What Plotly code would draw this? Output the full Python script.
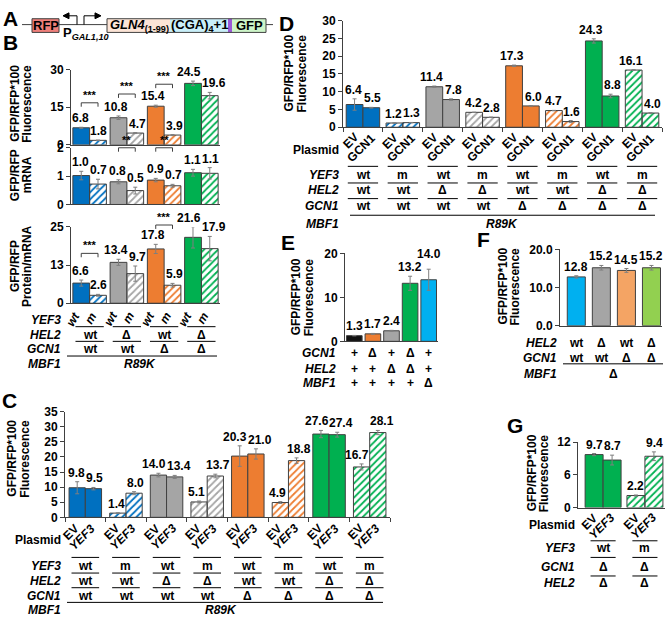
import plotly.graph_objects as go

W, H = 669, 626
FONT = "Liberation Sans, Arial, sans-serif"
AXC = "#404040"
ERRC = "#7f7f7f"

BLUE = "#0070C0"; GRAY = "#A5A5A5"; ORANGE = "#ED7D31"; GREEN = "#00B050"
LBLUE = "#00B0F0"; LORANGE = "#F4A464"; LGREEN = "#92D050"; BLACK = "#111111"

# ---------------- data ----------------
# Panel B
b_hel2 = ["wt", "Δ", "wt", "Δ"]
b_gcn1 = ["wt", "wt", "Δ", "Δ"]
b_yef3 = ["wt", "m"]
b_fluor_wt = [6.8, 10.8, 15.4, 24.5]
b_fluor_wt_err = [0.2, 0.7, 0.4, 0.9]
b_fluor_m = [1.8, 4.7, 3.9, 19.6]
b_fluor_m_err = [0.1, 0.2, 0.2, 1.3]
b_mrna_wt = [1.02, 0.80, 0.86, 1.12]
b_mrna_wt_err = [0.15, 0.07, 0.06, 0.12]
b_mrna_m = [0.72, 0.49, 0.66, 1.10]
b_mrna_m_err = [0.17, 0.12, 0.05, 0.20]
b_prot_wt = [6.6, 13.4, 17.8, 21.6]
b_prot_wt_err = [1.0, 1.0, 1.5, 3.5]
b_prot_m = [2.6, 9.7, 5.9, 17.9]
b_prot_m_err = [0.3, 2.5, 0.6, 4.0]

# Panel C
c_yef3 = ["wt", "m", "wt", "m", "wt", "m", "wt", "m"]
c_hel2 = ["wt", "wt", "Δ", "Δ", "wt", "wt", "Δ", "Δ"]
c_gcn1 = ["wt", "wt", "wt", "wt", "Δ", "Δ", "Δ", "Δ"]
c_plasmid = ["EV", "YEF3"]
c_ev = [9.8, 1.4, 14.0, 5.1, 20.3, 4.9, 27.6, 16.7]
c_ev_err = [2.0, 0.1, 0.6, 0.3, 3.4, 0.3, 1.2, 1.0]
c_yef3_val = [9.5, 8.0, 13.4, 13.7, 21.0, 18.8, 27.4, 28.1]
c_yef3_err = [0.4, 0.5, 0.5, 0.6, 1.7, 0.9, 0.8, 0.7]

# Panel D
d_yef3 = ["wt", "m", "wt", "m", "wt", "m", "wt", "m"]
d_hel2 = ["wt", "wt", "Δ", "Δ", "wt", "wt", "Δ", "Δ"]
d_gcn1 = ["wt", "wt", "wt", "wt", "Δ", "Δ", "Δ", "Δ"]
d_plasmid = ["EV", "GCN1"]
d_ev = [6.4, 1.2, 11.4, 4.2, 17.3, 4.7, 24.3, 16.1]
d_ev_err = [1.6, 0.05, 0.2, 0.05, 0.2, 0.05, 0.6, 0.1]
d_gcn1_val = [5.5, 1.3, 7.8, 2.8, 6.0, 1.6, 8.8, 4.0]
d_gcn1_err = [0.1, 0.05, 0.2, 0.05, 0.05, 0.3, 0.5, 0.1]

# Panel E
e_gcn1 = ["+", "Δ", "+", "Δ", "+"]
e_hel2 = ["+", "+", "Δ", "Δ", "+"]
e_mbf1 = ["+", "+", "+", "+", "Δ"]
e_vals = [1.3, 1.7, 2.4, 13.2, 14.0]
e_err = [0.05, 0.1, 0.1, 1.6, 2.4]

# Panel F
f_hel2 = ["wt", "Δ", "wt", "Δ"]
f_gcn1 = ["wt", "wt", "Δ", "Δ"]
f_vals = [12.8, 15.2, 14.5, 15.2]
f_err = [0.3, 0.6, 0.5, 0.6]

# Panel G
g_plasmid = ["EV", "YEF3"]
g_yef3 = ["wt", "m"]
g_gcn1 = ["Δ", "Δ"]
g_hel2 = ["Δ", "Δ"]
g_ev = [9.7, 2.2]
g_ev_err = [0.2, 0.1]
g_yef3_val = [8.7, 9.4]
g_yef3_err = [0.9, 0.8]

# styles
b_colors = [BLUE, GRAY, ORANGE, GREEN]
cd_colors = [BLUE, BLUE, GRAY, GRAY, ORANGE, ORANGE, GREEN, GREEN]
cd_hatch = [False, True] * 4
e_colors = [BLACK, ORANGE, GRAY, GREEN, LBLUE]
f_colors = [LBLUE, GRAY, LORANGE, LGREEN]
g_colors = [GREEN, GREEN]
g_hatch = [False, True]

# ---------------- helpers ----------------
fig = go.Figure()
ann, shp, axes = [], [], {}
AXINFO = {}
_n = [0]


def PX(x):
    return x / W


def PY(y):
    return 1 - y / H


def txt(x, y, s, size=12, xa="center", ya="middle", xref="paper", yref="paper",
        angle=0, xshift=0, yshift=0):
    ann.append(dict(x=x, y=y, text=s, xref=xref, yref=yref, xanchor=xa, yanchor=ya,
                    showarrow=False, textangle=angle, xshift=xshift, yshift=yshift,
                    borderpad=0, font=dict(family=FONT, size=size, color="black")))


def ln(x0, y0, x1, y1, xref="paper", color="black", width=1):
    if xref == "paper":
        x0, x1 = PX(x0), PX(x1)
    shp.append(dict(type="line", x0=x0, y0=PY(y0), x1=x1, y1=PY(y1), xref=xref,
                    yref="paper", line=dict(color=color, width=width)))


def rect(x0, y0, x1, y1, fill, outline=None):
    shp.append(dict(type="rect", xref="paper", yref="paper", x0=PX(x0), x1=PX(x1),
                    y0=PY(y1), y1=PY(y0), fillcolor=fill,
                    line=dict(color=outline or fill, width=1 if outline else 0)))


def arrowhead(x, y, direction):
    d = 6 * direction
    path = (f"M {PX(x)},{PY(y)} L {PX(x - d)},{PY(y - 3)} "
            f"L {PX(x - d)},{PY(y + 3)} Z")
    shp.append(dict(type="path", path=path, xref="paper", yref="paper",
                    fillcolor="black", line=dict(color="black", width=1)))


def make_axes(xpx, ypx, xrange, yrange, tickvals, ticktext=None, bticks=False):
    _n[0] += 1
    n = _n[0]
    sx = "" if n == 1 else str(n)
    axes["xaxis" + sx] = dict(
        domain=[PX(xpx[0]), PX(xpx[1])], range=xrange, anchor="y" + sx, type="category",
        showline=True, linecolor=AXC, linewidth=1, showgrid=False, zeroline=False,
        showticklabels=False, ticks="outside" if bticks else "", tickson="boundaries",
        ticklen=4, tickcolor=AXC, fixedrange=True)
    axes["yaxis" + sx] = dict(
        domain=[PY(ypx[1]), PY(ypx[0])], range=yrange, anchor="x" + sx,
        showline=True, linecolor=AXC, linewidth=1, showgrid=False, zeroline=False,
        ticks="outside", ticklen=4, tickcolor=AXC, tickvals=tickvals, ticktext=ticktext,
        tickfont=dict(family=FONT, size=12, color="black", weight="bold"),
        fixedrange=True)
    AXINFO["x" + sx] = dict(x0=xpx[0], x1=xpx[1], r0=xrange[0], r1=xrange[1],
                            ytop=ypx[0], ybot=ypx[1], v0=yrange[0], v1=yrange[1])
    return "x" + sx, "y" + sx


def bars(xr, yr, cats, vals, errs, colors, hatched, offset, width):
    fig.add_trace(go.Bar(
        x=cats, y=vals, xaxis=xr, yaxis=yr, offset=offset, width=width,
        marker=dict(color=colors, line=dict(color=AXC, width=1),
                    pattern=dict(shape=["/" if h else "" for h in hatched],
                                 fgcolor=colors, bgcolor="white",
                                 fillmode="replace", size=5, solidity=0.35)),
        error_y=dict(type="data", array=errs, color=ERRC, thickness=1, width=2),
        showlegend=False, hoverinfo="skip"))
    return [i + offset + width / 2 for i in range(len(vals))]


def text_w(s, size=12):
    return sum(3.34 if ch == "." else 6.67 for ch in s) * size / 12


def value_labels(xr, groups):
    """groups: list of lists of (center, value, err); labels in a group are spread apart."""
    a = AXINFO[xr]
    kx = (a["x1"] - a["x0"]) / (a["r1"] - a["r0"])
    ky = (a["ybot"] - a["ytop"]) / (a["v1"] - a["v0"])
    items = []
    for grp in groups:
        strs = [f"{v:.1f}" for _, v, _ in grp]
        shifts = [0.0] * len(grp)
        if len(grp) == 2:
            d = (grp[1][0] - grp[0][0]) * kx
            need = (text_w(strs[0]) + text_w(strs[1])) / 2 + 1.5
            s = min(max(0.0, (need - d) / 2), 5.0)
            shifts = [-s, s]
        for (c, v, e), st, sh in zip(grp, strs, shifts):
            items.append((c, v, e, st, sh))
    placed = []
    for c, v, e, st, sh in items:
        cx = a["x0"] + (c - a["r0"]) * kx + sh
        w = text_w(st)
        bottom = a["ybot"] - (v + e - a["v0"]) * ky - 1
        moved = True
        while moved:
            moved = False
            for (px2, w2, b2) in placed:
                if abs(cx - px2) < (w + w2) / 2 and not (bottom <= b2 - 14 or bottom - 14 >= b2):
                    bottom = b2 - 14
                    moved = True
        placed.append((cx, w, bottom))
        txt(c, PY(bottom), f"<b>{st}</b>", xref=xr, ya="bottom", xshift=sh)


def pair_labels(xr, c1, v1, e1, c2, v2, e2):
    value_labels(xr, [[(c1[i], v1[i], e1[i]), (c2[i], v2[i], e2[i])] for i in range(len(v1))])


def bracket(xr, c1, c2, ypx, stars):
    ln(c1, ypx + 4, c1, ypx, xref=xr, color=AXC)
    ln(c1, ypx, c2, ypx, xref=xr, color=AXC)
    ln(c2, ypx, c2, ypx + 4, xref=xr, color=AXC)
    txt((c1 + c2) / 2, PY(ypx - 1), f"<b>{stars}</b>", size=11, xref=xr, ya="bottom")


def row(xr, centers, labels, ypx, line_px=None, half=None):
    for c, lab in zip(centers, labels):
        txt(c, PY(ypx), f"<b>{lab}</b>", xref=xr)
        if line_px is not None:
            ln(c - half, line_px, c + half, line_px, xref=xr)


def rowname(xpx, ypx, name, italic=True):
    s = f"<b><i>{name}</i></b>" if italic else f"<b>{name}</b>"
    txt(PX(xpx), PY(ypx), s, xa="right")


def rot(xr, centers, labels, ytop, xshift, italic, size=12, angle=-45):
    for c, lab, it in zip(centers, labels, italic):
        s = f"<b><i>{lab}</i></b>" if it else f"<b>{lab}</b>"
        txt(c, PY(ytop), s, size=size, xref=xr, xa="right", ya="top", angle=angle,
            xshift=xshift)


def ylab(x1, x2, ypx, l1, l2):
    txt(PX(x1), PY(ypx), f"<b>{l1}</b>", angle=-90)
    txt(PX(x2), PY(ypx), f"<b>{l2}</b>", angle=-90)


def letter(x, y, s):
    txt(PX(x), PY(y), f"<b>{s}</b>", size=21)


# ---------------- Panel A (schematic) ----------------
ln(22, 18, 273, 18, color=AXC)
rect(32, 12, 59, 26, "#EF7F7A", AXC)
rect(107, 12, 170, 26, "#FCE4D6")
rect(170, 12, 228, 26, "#C9EFF9")
rect(228, 12, 232, 26, "#9B59D6")
rect(232, 12, 266, 26, "#CDF5C8")
shp.append(dict(type="rect", xref="paper", yref="paper", x0=PX(107), x1=PX(266),
                y0=PY(26), y1=PY(12), line=dict(color=AXC, width=1)))
ln(77, 18, 77, 9)
ln(77, 9, 66, 9)
arrowhead(63, 9, -1)
ln(84, 18, 84, 9)
ln(84, 9, 97, 9)
arrowhead(101, 9, 1)
txt(PX(45.5), PY(19), "<b>RFP</b>", size=13)
txt(PX(62), PY(27), "<b>P<sub><i>GAL1,10</i></sub></b>", size=13, xa="left")
txt(PX(139), PY(19), "<b><i>GLN4</i><sub>(1-99)</sub></b>", size=13)
txt(PX(199), PY(19), "<b>(CGA)<sub>4</sub>+1</b>", size=13)
txt(PX(249), PY(19), "<b>GFP</b>", size=13)
letter(10, 12, "A")

# ---------------- Panel B ----------------
letter(10, 36, "B")
PW_B = 0.9
b_cats = [f"{h}/{g}" for h, g in zip(b_hel2, b_gcn1)]

xB1, yB1 = make_axes((71, 220), (64, 141), [-0.5, 3.5], [0, 30], [0, 15, 30])
wt_c = bars(xB1, yB1, b_cats, b_fluor_wt, b_fluor_wt_err, b_colors, [False] * 4, -PW_B / 2, PW_B / 2)
m_c = bars(xB1, yB1, b_cats, b_fluor_m, b_fluor_m_err, b_colors, [True] * 4, 0, PW_B / 2)
pair_labels(xB1, wt_c, b_fluor_wt, b_fluor_wt_err, m_c, b_fluor_m, b_fluor_m_err)
for i, yp in zip([0, 1, 2], [98, 89, 79]):
    bracket(xB1, wt_c[i], m_c[i], yp, "***")
ylab(15, 27, 99, "GFP/RFP*100", "Fluorescence")

xB2, yB2 = make_axes((71, 220), (144, 202), [-0.5, 3.5], [0, 2], [0, 1, 2])
bars(xB2, yB2, b_cats, b_mrna_wt, b_mrna_wt_err, b_colors, [False] * 4, -PW_B / 2, PW_B / 2)
bars(xB2, yB2, b_cats, b_mrna_m, b_mrna_m_err, b_colors, [True] * 4, 0, PW_B / 2)
pair_labels(xB2, wt_c, b_mrna_wt, b_mrna_wt_err, m_c, b_mrna_m, b_mrna_m_err)
for i in [1, 2]:
    bracket(xB2, wt_c[i], m_c[i], 144, "**")
ylab(15, 27, 172, "GFP/RFP", "mRNA")

xB3, yB3 = make_axes((71, 220), (225, 303), [-0.5, 3.5], [0, 25], [0, 12.5, 25], ["0", "13", "25"])
bars(xB3, yB3, b_cats, b_prot_wt, b_prot_wt_err, b_colors, [False] * 4, -PW_B / 2, PW_B / 2)
bars(xB3, yB3, b_cats, b_prot_m, b_prot_m_err, b_colors, [True] * 4, 0, PW_B / 2)
pair_labels(xB3, wt_c, b_prot_wt, b_prot_wt_err, m_c, b_prot_m, b_prot_m_err)
bracket(xB3, wt_c[0], m_c[0], 252, "***")
bracket(xB3, wt_c[2], m_c[2], 223, "***")
ylab(15, 27, 265, "GFP/RFP", "Protein/mRNA")

for i in range(4):
    rot(xB3, [wt_c[i], m_c[i]], b_yef3, 308, 3, [True, True], size=12, angle=-60)
pc = list(range(4))
rowname(62, 320, "YEF3")
row(xB3, pc, b_hel2, 335, 327, 0.38)
rowname(62, 335, "HEL2")
row(xB3, pc, b_gcn1, 350, 342, 0.38)
rowname(62, 350, "GCN1")
ln(67, 357, 217, 357)
rowname(62, 365, "MBF1")
txt(PX(140), PY(365), "<b><i>R89K</i></b>")

# ---------------- Panel C ----------------
letter(9, 403, "C")
PW_C = 0.8
c_cats = [f"{y}/{h}/{g}" for y, h, g in zip(c_yef3, c_hel2, c_gcn1)]
xC, yC = make_axes((65, 390), (414, 522), [-0.5, 7.5], [0, 35], list(range(0, 36, 5)), bticks=True)
ce = bars(xC, yC, c_cats, c_ev, c_ev_err, cd_colors, cd_hatch, -PW_C / 2, PW_C / 2)
cy = bars(xC, yC, c_cats, c_yef3_val, c_yef3_err, cd_colors, cd_hatch, 0, PW_C / 2)
pair_labels(xC, ce, c_ev, c_ev_err, cy, c_yef3_val, c_yef3_err)
ylab(12, 25, 462, "GFP/RFP*100", "Fluorescence")
for i in range(8):
    rot(xC, [ce[i], cy[i]], c_plasmid, 525, 6, [False, True])
pc = list(range(8))
rowname(62, 545, "Plasmid", italic=False)
row(xC, pc, c_yef3, 572, 563, 0.34)
rowname(62, 572, "YEF3")
row(xC, pc, c_hel2, 587, 579, 0.34)
rowname(62, 587, "HEL2")
row(xC, pc, c_gcn1, 602, 594, 0.34)
rowname(62, 602, "GCN1")
ln(67, 609, 383, 609)
rowname(62, 617, "MBF1")
txt(PX(221), PY(617), "<b><i>R89K</i></b>")

# ---------------- Panel D ----------------
letter(286, 17, "D")
PW_D = 0.84
d_cats = [f"{y}/{h}/{g}" for y, h, g in zip(d_yef3, d_hel2, d_gcn1)]
xD, yD = make_axes((343, 662), (14, 123), [-0.5, 7.5], [0, 30], list(range(0, 31, 5)), bticks=True)
de = bars(xD, yD, d_cats, d_ev, d_ev_err, cd_colors, cd_hatch, -PW_D / 2, PW_D / 2)
dg = bars(xD, yD, d_cats, d_gcn1_val, d_gcn1_err, cd_colors, cd_hatch, 0, PW_D / 2)
pair_labels(xD, de, d_ev, d_ev_err, dg, d_gcn1_val, d_gcn1_err)
ylab(289, 302, 68, "GFP/RFP*100", "Fluorescence")
for i in range(8):
    rot(xD, [de[i], dg[i]], d_plasmid, 125, 8, [False, False])
pc = list(range(8))
rowname(340, 146, "Plasmid", italic=False)
row(xD, pc, d_yef3, 172, 163, 0.38)
rowname(340, 172, "YEF3")
row(xD, pc, d_hel2, 187, 180, 0.38)
rowname(340, 187, "HEL2")
row(xD, pc, d_gcn1, 204, 196, 0.38)
rowname(340, 204, "GCN1")
ln(350, 213, 655, 213)
rowname(340, 222, "MBF1")
txt(PX(502), PY(222), "<b><i>R89K</i></b>")

# ---------------- Panel E ----------------
letter(288, 241, "E")
e_cats = [f"{g}{h}{m}" for g, h, m in zip(e_gcn1, e_hel2, e_mbf1)]
xE, yE = make_axes((345, 438), (252, 342), [-0.5, 4.5], [0, 20], [0, 10, 20])
ec = bars(xE, yE, e_cats, e_vals, e_err, e_colors, [False] * 5, -0.42, 0.84)
value_labels(xE, [[(c, v, e)] for c, v, e in zip(ec, e_vals, e_err)])
ylab(296, 309, 297, "GFP/RFP*100", "Fluorescence")
row(xE, ec, e_gcn1, 354)
rowname(337, 354, "GCN1")
row(xE, ec, e_hel2, 370)
rowname(337, 370, "HEL2")
row(xE, ec, e_mbf1, 385)
rowname(337, 385, "MBF1")

# ---------------- Panel F ----------------
letter(483, 238, "F")
f_cats = [f"{h}/{g}" for h, g in zip(f_hel2, f_gcn1)]
xF, yF = make_axes((560, 662), (248, 326), [-0.65, 3.42], [0, 20], [0, 10, 20], ["0.0", "10.0", "20.0"])
fc = bars(xF, yF, f_cats, f_vals, f_err, f_colors, [False] * 4, -0.36, 0.72)
value_labels(xF, [[(c, v, e)] for c, v, e in zip(fc, f_vals, f_err)])
ylab(503, 515, 286, "GFP/RFP*100", "Fluorescence")
row(xF, fc, f_hel2, 344)
rowname(558, 344, "HEL2")
row(xF, fc, f_gcn1, 359)
rowname(558, 359, "GCN1")
ln(563, 365, 663, 365)
rowname(558, 375, "MBF1")
txt(PX(613), PY(375), "<b>Δ</b>")

# ---------------- Panel G ----------------
letter(515, 428, "G")
PW_G = 0.86
xG, yG = make_axes((578, 665), (445, 512), [-0.6, 1.48], [0, 12], [0, 6, 12])
ge = bars(xG, yG, g_yef3, g_ev, g_ev_err, g_colors, g_hatch, -PW_G / 2, PW_G / 2)
gy = bars(xG, yG, g_yef3, g_yef3_val, g_yef3_err, g_colors, g_hatch, 0, PW_G / 2)
pair_labels(xG, ge, g_ev, g_ev_err, gy, g_yef3_val, g_yef3_err)
ylab(532, 544, 477, "GFP/RFP*100", "Fluorescence")
for i in range(2):
    rot(xG, [ge[i], gy[i]], g_plasmid, 514, 7, [False, True])
pc = [0, 1]
rowname(576, 530, "Plasmid", italic=False)
row(xG, pc, g_yef3, 553, 546, 0.3)
rowname(576, 553, "YEF3")
row(xG, pc, g_gcn1, 573, 563, 0.3)
rowname(576, 573, "GCN1")
row(xG, pc, g_hel2, 589, 582, 0.3)
rowname(576, 589, "HEL2")

fig.update_layout(
    width=W, height=H, margin=dict(l=0, r=0, t=0, b=0),
    paper_bgcolor="white", plot_bgcolor="white", showlegend=False,
    barmode="overlay", font=dict(family=FONT, size=12, color="black"),
    annotations=ann, shapes=shp, **axes)

fig.write_html("out.html",
               config={"displayModeBar": False, "staticPlot": True},
               post_script="document.body.style.margin='0';"
                           "document.body.style.overflow='hidden';")
